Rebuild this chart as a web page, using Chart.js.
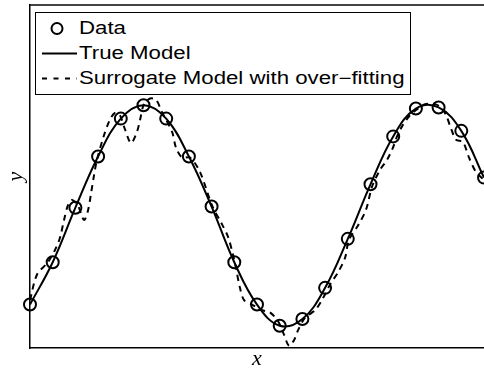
<!DOCTYPE html>
<html>
<head>
<meta charset="utf-8">
<script src="https://cdn.jsdelivr.net/npm/chart.js@4.4.1/dist/chart.umd.min.js"></script>
<style>
    body { margin: 0; background: #fff; }
    #wrap { position: relative; width: 484px; height: 370px; overflow: hidden; }
    #myChart { display: block; }
    #legend {
        position: absolute; left: 35px; top: 12px; width: 376px; height: 83px;
        box-sizing: border-box; border: 1px solid #000; background: #fff;
        font-family: 'Liberation Sans', Arial, sans-serif;
    }
    .row { position: absolute; left: 0; height: 25px; width: 370px; }
    .row svg { position: absolute; left: 6px; top: 0; width: 35px; height: 25px; display: block; }
    .row span {
        position: absolute; left: 43px; top: 4px; font-size: 17.5px; line-height: 17.5px;
        white-space: nowrap; transform: scaleX(1.27); transform-origin: 0 50%;
    }
</style>
</head>
<body>
<div id="wrap">
    <canvas id="myChart" width="484" height="370"></canvas>
    <div id="legend"></div>
</div>
<script>
// sample positions and measured values
const xData = [0, 1, 2, 3, 4, 5, 6, 7, 8, 9, 10, 11, 12, 13, 14, 15, 16, 17, 18, 19, 20];
const yData = [-0.80, -0.42, 0.07, 0.53, 0.87, 0.99, 0.87, 0.53, 0.08, -0.42, -0.80,
    -0.99, -0.93, -0.65, -0.21, 0.28, 0.71, 0.96, 0.97, 0.76, 0.34];

// over-fitted surrogate curve
const surrogateX = [0, 0.31, 0.79, 1.10, 1.32, 1.50, 1.67, 1.85, 2.11, 2.38, 2.56, 2.69, 2.82, 2.95,
    3.26, 3.52, 3.74, 3.96, 4.19, 4.45, 4.71, 4.85, 5.02, 5.29, 5.55, 5.81, 6.26, 6.43, 6.70,
    7.05, 7.49, 8.02, 8.46, 8.72, 8.94, 9.07, 9.25, 9.43, 9.78, 10.22, 10.57, 10.93, 11.19,
    11.41, 11.63, 11.81, 12.11, 12.56, 12.86, 13.22, 13.57, 13.88, 14.05, 14.45, 14.80, 15.07,
    15.42, 15.73, 15.99, 16.17, 16.39, 16.74, 17.09, 17.40, 17.84, 18.11, 18.33, 18.55, 18.77,
    19.07, 19.34, 19.65, 20.00];
const surrogateY = [-0.76, -0.53, -0.42, -0.31, -0.20, -0.04, 0.09, 0.14, 0.09, -0.04, 0.05, 0.20,
    0.36, 0.50, 0.72, 0.86, 0.92, 0.90, 0.77, 0.65, 0.75, 0.86, 1.00, 1.05, 1.04, 0.93, 0.75,
    0.61, 0.52, 0.52, 0.39, 0.09, -0.08, -0.19, -0.35, -0.47, -0.65, -0.76, -0.80, -0.85, -0.87,
    -0.95, -1.07, -1.17, -1.12, -1.03, -0.92, -0.85, -0.76, -0.62, -0.51, -0.38, -0.22, -0.09,
    0.05, 0.26, 0.41, 0.50, 0.61, 0.71, 0.80, 0.90, 0.96, 1.00, 1.00, 0.97, 0.90, 0.78, 0.68,
    0.66, 0.52, 0.39, 0.32];

const labels = ['Data', 'True Model', 'Surrogate Model with over\u2212fitting'];

function toPoints(xs, ys) {
    return xs.map((x, i) => ({ x: x, y: ys[i] }));
}

const hidden = { display: false, drawTicks: false };
const titleFont = { family: "'Liberation Serif', 'DejaVu Serif', serif", style: 'italic', size: 22, lineHeight: 1 };

const ctx = document.getElementById('myChart');
const myChart = new Chart(ctx, {
    type: 'line',
    data: {
        datasets: [{
            label: labels[0],
            data: toPoints(xData, yData),
            showLine: false,
            pointStyle: 'circle',
            pointRadius: 6,
            pointBorderWidth: 2,
            pointBorderColor: '#000',
            pointBackgroundColor: 'rgba(0,0,0,0)',
            borderColor: '#000',
            clip: false
        }, {
            label: labels[1],
            data: toPoints(xData, yData),
            borderColor: '#000',
            borderWidth: 2,
            pointRadius: 0,
            tension: 0.4,
            clip: false
        }, {
            label: labels[2],
            data: toPoints(surrogateX, surrogateY),
            borderColor: '#000',
            borderWidth: 2,
            borderDash: [6, 5],
            pointRadius: 0,
            tension: 0.3,
            clip: false
        }]
    },
    options: {
        responsive: false,
        animation: false,
        layout: { autoPadding: false, padding: { top: 5, right: 0, left: 0, bottom: 0 } },
        scales: {
            x: {
                type: 'linear', position: 'bottom', min: 0, max: 20,
                ticks: { display: false },
                grid: hidden,
                border: { display: true, color: '#000', width: 1.5 },
                title: { display: true, text: 'x', color: '#000', font: titleFont, padding: { top: 0, bottom: 0 } }
            },
            xTop: {
                type: 'linear', position: 'top', min: 0, max: 20,
                ticks: { display: false },
                grid: hidden,
                border: { display: true, color: '#444', width: 2 }
            },
            y: {
                min: -1.19, max: 1.89,
                ticks: { display: false },
                grid: hidden,
                border: { display: true, color: '#000', width: 1.5 },
                title: { display: true, text: 'y', color: '#000', font: titleFont, padding: { top: 5, bottom: 3 } }
            }
        },
        plugins: {
            legend: { display: false },
            tooltip: { enabled: false }
        }
    }
});

// legend box in the upper left corner of the plot
function buildLegend(chart) {
    const box = document.getElementById('legend');
    chart.data.datasets.forEach((ds, i) => {
        const row = document.createElement('div');
        row.className = 'row';
        row.style.top = (3 + i * 25) + 'px';
        let sample;
        if (ds.showLine === false) {
            sample = `<circle cx="15" cy="12.5" r="5.5" fill="none" stroke="${ds.pointBorderColor}" stroke-width="2"/>`;
        } else {
            const dash = ds.borderDash ? `stroke-dasharray="5 6.5"` : '';
            sample = `<line x1="0" y1="12.5" x2="35" y2="12.5" stroke="${ds.borderColor}" stroke-width="${ds.borderWidth}" ${dash}/>`;
        }
        row.innerHTML = `<svg viewBox="0 0 35 25">${sample}</svg><span>${ds.label}</span>`;
        box.appendChild(row);
    });
}

buildLegend(myChart);
</script>
</body>
</html>
